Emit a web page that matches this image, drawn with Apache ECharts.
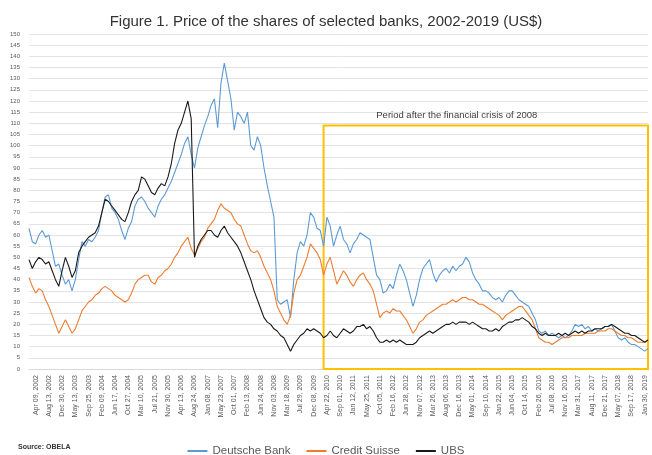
<!DOCTYPE html>
<html>
<head>
<meta charset="utf-8">
<script src="https://cdn.jsdelivr.net/npm/echarts@6/dist/echarts.min.js"></script>
<style>
  html, body { margin: 0; padding: 0; background: #fff; }
  #chart { width: 652px; height: 455px; }
</style>
</head>
<body>
<div id="chart"></div>
<script>
  // tick labels shown on the x axis (one every 4 data points)
  const tickDates = [
    'Apr 09, 2002', 'Aug 13, 2002', 'Dec 30, 2002', 'May 13, 2003', 'Sep 25, 2003', 'Feb 09, 2004',
    'Jun 17, 2004', 'Oct 27, 2004', 'Mar 10, 2005', 'Jul 21, 2005', 'Nov 30, 2005', 'Apr 13, 2006',
    'Aug 24, 2006', 'Jan 08, 2007', 'May 23, 2007', 'Oct 01, 2007', 'Feb 13, 2008', 'Jun 24, 2008',
    'Nov 03, 2008', 'Mar 18, 2009', 'Jul 29, 2009', 'Dec 08, 2009', 'Apr 22, 2010', 'Sep 01, 2010',
    'Jan 12, 2011', 'May 25, 2011', 'Oct 05, 2011', 'Feb 16, 2012', 'Jun 28, 2012', 'Nov 07, 2012',
    'Mar 26, 2013', 'Aug 06, 2013', 'Dec 16, 2013', 'May 01, 2014', 'Sep 10, 2014', 'Jan 22, 2015',
    'Jun 04, 2015', 'Oct 14, 2015', 'Feb 26, 2016', 'Jul 08, 2016', 'Nov 16, 2016', 'Mar 31, 2017',
    'Aug 11, 2017', 'Dec 21, 2017', 'May 07, 2018', 'Sep 17, 2018', 'Jan 30, 2019'
  ]

  const deutscheBank = [
    63, 57, 56, 60, 62, 59, 60, 53, 46, 47, 42, 38, 40, 35, 40, 49, 57, 55, 58, 57,
    59, 62, 70, 77, 78, 72, 70, 67, 62, 58, 63, 66, 73, 76, 77, 75, 72, 70, 68, 73,
    76, 78, 81, 84, 88, 92, 96, 101, 104, 96, 90, 99, 104, 109, 113, 118, 121, 108, 128, 137,
    129, 121, 107, 115, 113, 110, 115, 100, 98, 104, 100, 90, 82, 75, 68, 31, 29, 30, 31, 23,
    40, 52, 57, 55, 60, 70, 68, 63, 62, 55, 68, 64, 55, 60, 64, 58, 56, 52, 56, 58,
    61, 60, 59, 58, 50, 42, 40, 34, 35, 38, 36, 42, 47, 44, 40, 34, 28, 33, 40, 45,
    47, 49, 43, 39, 42, 44, 45, 43, 46, 44, 46, 47, 50, 48, 43, 40, 38, 35, 35, 34,
    32, 31, 32, 30, 33, 35, 35, 33, 31, 30, 29, 28, 25, 22, 17, 16, 17, 15, 16, 15,
    14, 15, 14, 15, 17, 20, 19, 20, 18, 19, 17, 18, 17, 18, 19, 19, 20, 17, 14, 13,
    14, 12, 11, 11, 10, 9, 8, 9
  ]

  const creditSuisse = [
    41, 37, 34, 36, 35, 31, 28, 24, 20, 16, 19, 22, 19, 16, 18, 22, 26, 28, 30, 31,
    33, 34, 36, 37, 36, 35, 33, 32, 31, 30, 31, 34, 38, 40, 41, 42, 42, 39, 38, 41,
    42, 44, 45, 47, 50, 52, 55, 57, 59, 54, 51, 54, 57, 59, 63, 65, 67, 71, 74, 72,
    71, 70, 67, 65, 64, 60, 56, 53, 52, 53, 50, 46, 43, 40, 35, 28, 25, 22, 20, 24,
    34, 40, 42, 46, 50, 56, 54, 52, 49, 42, 47, 50, 44, 38, 41, 44, 42, 39, 37, 40,
    42, 43, 40, 38, 35, 29, 23, 25, 26, 25, 27, 26, 26, 24, 22, 19, 16, 18, 21, 22,
    24, 25, 26, 27, 28, 29, 29, 30, 31, 30, 31, 32, 32, 31, 31, 30, 29, 29, 28, 27,
    26, 25, 24, 22, 24, 25, 26, 27, 28, 28, 26, 24, 22, 18, 14, 13, 12, 12, 11, 12,
    13, 14, 14, 14, 15, 15, 15, 15, 16, 16, 16, 16, 17, 17, 17, 18, 18, 17, 16, 15,
    15, 14, 14, 13, 12, 12, 12, 13
  ]

  const ubs = [
    49, 45, 48, 50, 49, 47, 48, 44, 40, 37, 44, 50, 46, 41, 44, 52, 55, 57, 59, 60,
    61, 64, 70, 76, 75, 73, 71, 69, 67, 66, 70, 75, 78, 80, 86, 85, 82, 79, 78, 81,
    83, 82, 86, 92, 101, 107, 110, 115, 120, 112, 50, 55, 58, 60, 62, 62, 60, 59, 62, 64,
    61, 59, 57, 55, 52, 48, 44, 40, 35, 31, 27, 23, 21, 20, 18, 17, 15, 14, 11, 8,
    11, 13, 15, 16, 18, 17, 18, 17, 16, 14, 15, 17, 15, 14, 16, 18, 17, 16, 17, 19,
    19, 20, 18, 19, 17, 14, 12, 12, 13, 12, 13, 12, 13, 12, 11, 11, 11, 12, 14, 15,
    16, 17, 16, 17, 18, 19, 20, 20, 21, 20, 21, 21, 21, 20, 21, 20, 19, 18, 18, 17,
    17, 18, 17, 19, 20, 21, 21, 22, 22, 23, 22, 21, 19, 18, 16, 15, 16, 15, 15, 15,
    16, 15, 16, 15, 16, 17, 16, 17, 16, 17, 17, 18, 18, 18, 19, 19, 20, 19, 18, 17,
    16, 16, 15, 15, 14, 13, 12, 13
  ]

  // the first labelled tick sits on data point 2, then every 4th point
  const firstTick = 2
  const tickStep = 4
  const categories = deutscheBank.map((v, i) => {
    const k = (i - firstTick) / tickStep
    return (i >= firstTick && Number.isInteger(k) && tickDates[k]) ? tickDates[k] : ''
  })

  const chart = echarts.init(document.getElementById('chart'))
  const lineSeries = (name, data, color) => ({
    name: name,
    type: 'line',
    data: data,
    showSymbol: false,
    symbol: 'none',
    lineStyle: { width: 1.1, color: color },
    itemStyle: { color: color },
    animation: false
  })

  const db = lineSeries('Deutsche Bank', deutscheBank, '#5B9BD5')
  // box marking the post-crisis period
  db.markArea = {
    silent: true,
    itemStyle: { color: 'rgba(0,0,0,0)', borderColor: '#FFC000', borderWidth: 2 },
    label: {
      show: true,
      position: 'top',
      offset: [-29, 1],
      color: '#404040',
      fontFamily: 'Liberation Sans',
      fontSize: 9.5
    },
    data: [[
      { name: 'Period after the financial crisis of 2008', coord: [89, 0] },
      { coord: [187, 109] }
    ]]
  }

  chart.setOption({
    animation: false,
    title: {
      text: 'Figure 1. Price of the shares of selected banks, 2002-2019 (US$)',
      left: 'center',
      top: 9,
      textStyle: {
        fontFamily: 'Liberation Sans',
        fontSize: 15,
        fontWeight: 'normal',
        color: '#333333'
      }
    },
    legend: {
      left: 'center',
      top: 440,
      icon: 'rect',
      itemWidth: 20,
      itemHeight: 2,
      itemGap: 16,
      textStyle: { fontFamily: 'Liberation Sans', fontSize: 11.5, color: '#595959' },
      data: ['Deutsche Bank', 'Credit Suisse', 'UBS']
    },
    grid: { left: 29, right: 4, top: 34, bottom: 86 },
    xAxis: {
      type: 'category',
      boundaryGap: false,
      data: categories,
      axisLine: { lineStyle: { color: '#D9D9D9' } },
      axisTick: { show: false },
      axisLabel: {
        interval: 0,
        rotate: 90,
        margin: 6,
        fontFamily: 'Liberation Sans',
        fontSize: 7,
        color: '#595959'
      }
    },
    yAxis: {
      type: 'value',
      min: 0,
      max: 150,
      interval: 5,
      axisLine: { show: false },
      axisTick: { show: false },
      axisLabel: { margin: 9, fontFamily: 'Liberation Sans', fontSize: 6, color: '#595959' },
      splitLine: { lineStyle: { color: '#E3E3E3', width: 1 } }
    },
    graphic: [{
      type: 'text',
      left: 18,
      top: 444,
      style: {
        text: 'Source: OBELA',
        font: 'bold 7px "Liberation Sans"',
        fill: '#333333'
      }
    }],
    series: [
      db,
      lineSeries('Credit Suisse', creditSuisse, '#ED7D31'),
      lineSeries('UBS', ubs, '#1A1A1A')
    ]
  })
</script>
</body>
</html>
